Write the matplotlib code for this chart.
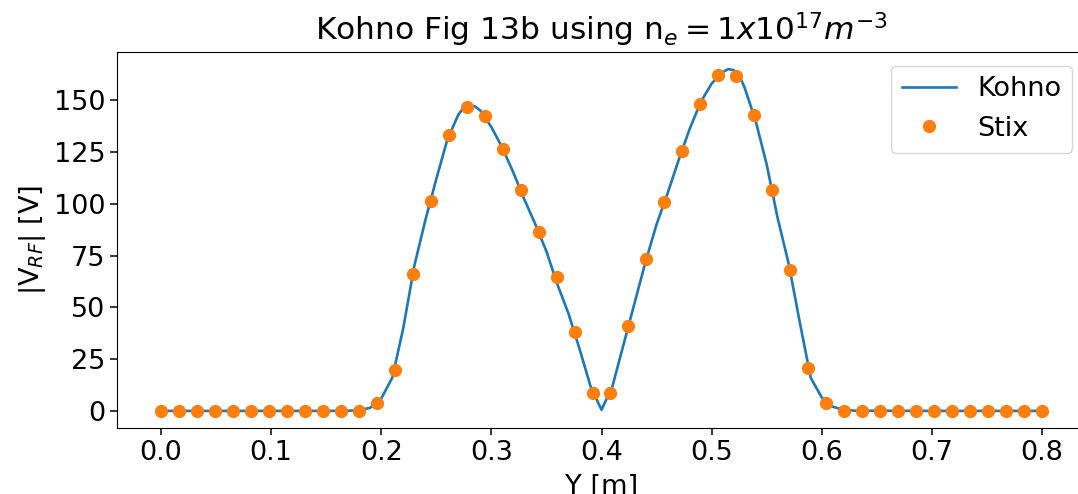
import numpy as np
import matplotlib
matplotlib.use('Agg')
import matplotlib.pyplot as plt

# Kohno reference curve
kohno_y = [0.0, 0.05, 0.10, 0.15, 0.17, 0.18, 0.19, 0.20, 0.21, 0.22, 0.23, 0.24,
           0.25, 0.26, 0.27, 0.275, 0.28, 0.285, 0.29, 0.30, 0.31, 0.32, 0.33,
           0.34, 0.35, 0.36, 0.37, 0.38, 0.39, 0.40, 0.41, 0.42, 0.43, 0.44,
           0.45, 0.46, 0.47, 0.48, 0.49, 0.50, 0.51, 0.515, 0.52, 0.525, 0.53,
           0.54, 0.55, 0.56, 0.57, 0.58, 0.59, 0.60, 0.61, 0.62, 0.63, 0.70, 0.80]
kohno_v = [0.0, 0.0, 0.0, 0.0, 0.1, 0.3, 1.5, 6.0, 16.0, 40.0, 70.0, 92.0,
           112.0, 131.0, 143.0, 146.5, 147.5, 147.0, 145.0, 137.0, 127.0, 115.0, 102.0,
           90.0, 77.0, 61.0, 47.0, 30.0, 12.0, 0.5, 12.0, 32.0, 52.0, 72.0,
           90.0, 105.0, 121.0, 136.0, 149.0, 158.0, 163.5, 165.0, 164.5, 162.0, 156.0,
           140.0, 119.0, 93.0, 71.0, 43.0, 16.0, 6.5, 2.0, 0.5, 0.1, 0.0, 0.0]

# Stix results, 50 evenly spaced points from 0 to 0.8
stix_y = np.linspace(0, 0.8, 50)
stix_v = [0, 0, 0, 0, 0, 0, 0, 0, 0, 0, 0, 0,
          4.0, 19.8, 66.3, 101.5, 133.2, 146.6, 142.3, 126.5, 106.5, 86.3,
          64.7, 38.0, 8.8, 8.8, 40.8, 73.2, 100.7, 125.7, 148.2, 162.3,
          161.5, 142.6, 106.6, 68.0, 20.8, 4.0,
          0, 0, 0, 0, 0, 0, 0, 0, 0, 0, 0, 0]

fig = plt.figure(figsize=(10.78, 4.94), dpi=100)
# the original figure runs past the right edge of the image
ax = fig.add_axes([117 / 1078, 66 / 494, 969 / 1078, 376 / 494])

ax.plot(kohno_y, kohno_v, label='Kohno', linewidth=1.9)
ax.plot(stix_y, stix_v, 'o', label='Stix', markersize=8.5)

ax.set_title(r'Kohno Fig 13b using n$_e = 1x10^{17}m^{-3}$', fontsize=22.5, pad=8)
ax.set_xlabel('Y [m]', fontsize=19.5, labelpad=6)
ax.set_ylabel(r'|V$_{RF}$| [V]', fontsize=19.5)
ax.tick_params(labelsize=19.5, length=5, width=1.1)
ax.set_xticks(np.arange(0, 0.81, 0.1))
ax.set_yticks(np.arange(0, 151, 25))
ax.legend(fontsize=19.5, loc='upper right')

fig.savefig('out.png', dpi=100)
